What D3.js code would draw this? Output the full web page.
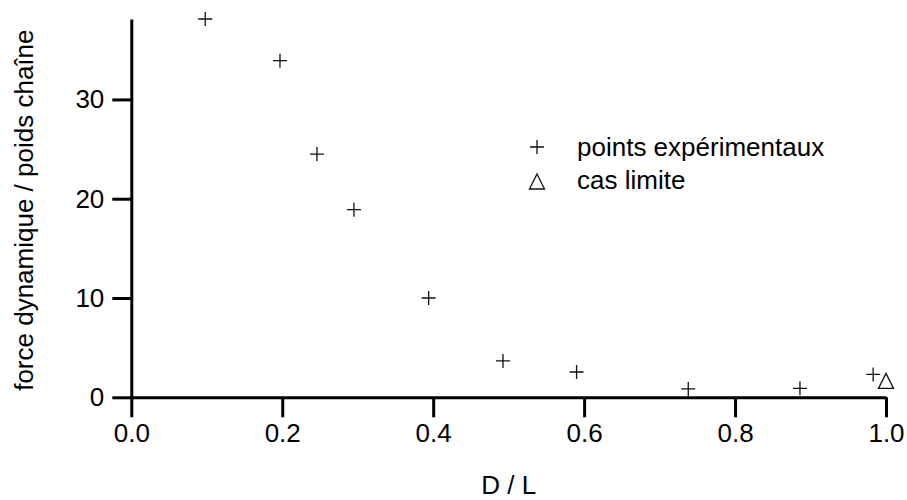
<!DOCTYPE html>
<html>
<head>
<meta charset="utf-8">
<script src="https://cdn.jsdelivr.net/npm/d3@7"></script>
<style>
  html, body { margin: 0; padding: 0; background: #fff; }
  svg { display: block; font-family: "Liberation Sans", Arial, sans-serif; }
</style>
</head>
<body>
<svg id="chart" width="907" height="500"></svg>
<script>
// Data
const expX = [0.098, 0.197, 0.246, 0.295, 0.394, 0.4925, 0.590, 0.738, 0.886, 0.983];
const expY = [38.1, 33.9, 24.5, 18.9, 10.0, 3.66, 2.55, 0.84, 0.9, 2.3];
const limX = [1.0];
const limY = [1.5];
const xTicks = [0, 0.2, 0.4, 0.6, 0.8, 1.0];
const yTicks = [0, 10, 20, 30];
const xTitle = "D / L";
const yTitle = "force dynamique / poids chaîne";
const legendLabels = ["points expérimentaux", "cas limite"];

const svg = d3.select("#chart");
const x = d3.scaleLinear().domain([0, 1]).range([131.3, 886]);
const y = d3.scaleLinear().domain([0, 38.1]).range([397.3, 19]);

const fs = 26;

const gx = svg.append("g").attr("transform", `translate(0,${y(0)})`)
  .call(d3.axisBottom(x).tickValues(xTicks).tickFormat(d3.format(".1f")).tickSize(20).tickSizeOuter(0).tickPadding(6));
const gy = svg.append("g").attr("transform", `translate(${x(0)},0)`)
  .call(d3.axisLeft(y).tickValues(yTicks).tickSize(19).tickSizeOuter(0).tickPadding(8));

[gx, gy].forEach(g => {
  g.select(".domain").attr("stroke", "#000").attr("stroke-width", 3);
  g.selectAll(".tick line").attr("stroke", "#000").attr("stroke-width", 3);
  g.selectAll(".tick text").attr("fill", "#000").style("font-size", fs + "px")
    .style("font-family", '"Liberation Sans", Arial, sans-serif');
});
gx.selectAll(".tick text").attr("dy", "0.71em");

// Titles
svg.append("text").attr("x", (x(0) + x(1)) / 2).attr("y", 494)
  .attr("text-anchor", "middle").style("font-size", fs + "px").text(xTitle);
svg.append("text").attr("transform", `translate(33,${(y(0) + y(38.1)) / 2 + 2}) rotate(-90)`)
  .attr("text-anchor", "middle").style("font-size", fs + "px").text(yTitle);

// Markers
const plusPath = (cx, cy, r) => `M${cx - r},${cy}H${cx + r}M${cx},${cy - r}V${cy + r}`;
const triPath = (cx, cy, w, h) => `M${cx},${cy - h * 0.6}L${cx + w / 2},${cy + h * 0.4}L${cx - w / 2},${cy + h * 0.4}Z`;

svg.append("g").selectAll("path").data(expX.map((d, i) => [d, expY[i]])).join("path")
  .attr("d", d => plusPath(x(d[0]), y(d[1]), 7))
  .attr("stroke", "#111").attr("stroke-width", 1.3).attr("fill", "none");

svg.append("g").selectAll("path").data(limX.map((d, i) => [d, limY[i]])).join("path")
  .attr("d", d => triPath(x(d[0]), y(d[1]), 15, 15))
  .attr("stroke", "#111").attr("stroke-width", 1.3).attr("fill", "none");

// Legend
const lg = svg.append("g");
lg.append("path").attr("d", plusPath(537, 147, 7)).attr("stroke", "#111").attr("stroke-width", 1.3).attr("fill", "none");
lg.append("path").attr("d", triPath(537, 183, 15, 15)).attr("stroke", "#111").attr("stroke-width", 1.3).attr("fill", "none");
lg.append("text").attr("x", 577).attr("y", 156).style("font-size", fs + "px").text(legendLabels[0]);
lg.append("text").attr("x", 577).attr("y", 189).style("font-size", fs + "px").text(legendLabels[1]);
</script>
</body>
</html>
